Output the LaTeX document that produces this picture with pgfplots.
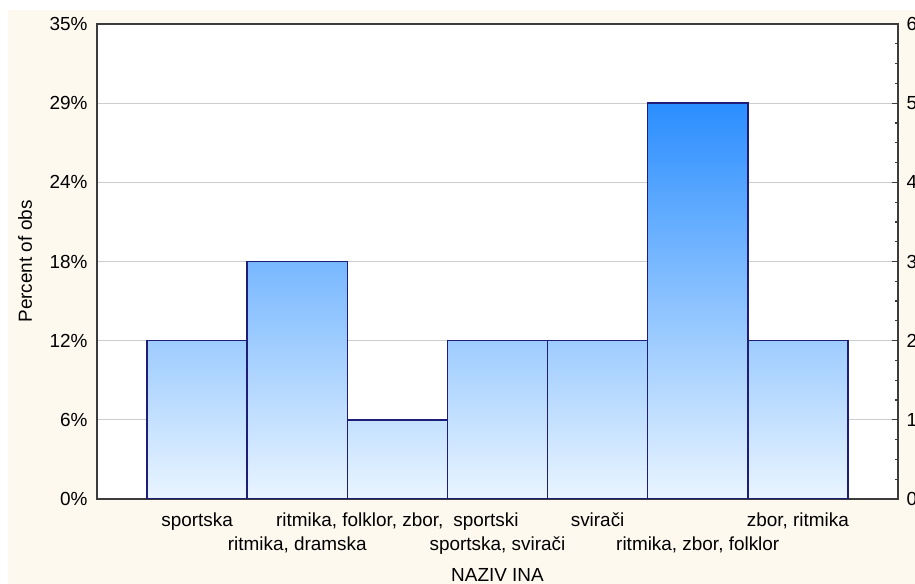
\documentclass[border=0pt]{standalone}
\usepackage{pgfplots}
\pgfplotsset{compat=1.18}
\usepackage{fontspec}
\setmainfont{Liberation Sans}
\definecolor{cream}{HTML}{FEF9EF}
\definecolor{ctop}{RGB}{43,142,255}
\definecolor{cbot}{RGB}{234,245,255}
\definecolor{edgec}{RGB}{30,30,120}
\definecolor{gridc}{RGB}{205,205,205}
\definecolor{axc}{RGB}{60,60,60}
\newcommand{\lf}{\fontsize{19}{22.5}\selectfont}
\begin{document}
\lf
\begin{tikzpicture}[x=1bp,y=1bp]
\useasboundingbox (0,0) rectangle (915,584);
\fill[cream] (8,0) rectangle (915,574);
\begin{axis}[
  at={(97bp,85bp)}, anchor=south west,
  width=801bp, height=475bp, scale only axis,
  xmin=0, xmax=8, ymin=0, ymax=6,
  axis background/.style={fill=white},
  axis line style={draw=axc, line width=1.5bp},
  ymajorgrids, grid style={draw=gridc, line width=1bp},
  ytick={0,1,2,3,4,5,6},
  yticklabels={0\%,6\%,12\%,18\%,24\%,29\%,35\%},
  ytick pos=left, ytick style={draw=none},
  xtick={1,2,3,4,5,6,7},
  xtick pos=bottom, tick align=inside,
  xtick style={draw=axc, line width=1.2bp},
  major tick length=4bp,
  xticklabels={sportska,{\strut\\ritmika, dramska},{ritmika, folklor, zbor,\hspace{10bp}sportski},{\strut\\sportska, svirači},svirači,{\strut\\ritmika, zbor, folklor},{zbor, ritmika}},
  xticklabel style={align=center, anchor=north, yshift=-7bp, font=\lf},
  yticklabel style={font=\lf, xshift=-3bp},
  xlabel={NAZIV INA},
  ylabel={Percent of obs},
  xlabel style={at={(axis description cs:0.5,0)}, anchor=center, yshift=-76bp, font=\lf},
  ylabel style={at={([xshift=-72bp]axis description cs:0,0.5)}, anchor=center, font=\lf},
  every axis plot/.append style={ybar, bar width=1, bar shift=0pt, draw=edgec, line width=1.4bp, bottom color=cbot},
]
\addplot[top color=ctop!40!cbot] coordinates {(1,2)};
\addplot[top color=ctop!60!cbot] coordinates {(2,3)};
\addplot[top color=ctop!20!cbot] coordinates {(3,1)};
\addplot[top color=ctop!40!cbot] coordinates {(4,2)};
\addplot[top color=ctop!40!cbot] coordinates {(5,2)};
\addplot[top color=ctop!100!cbot] coordinates {(6,5)};
\addplot[top color=ctop!40!cbot] coordinates {(7,2)};
\end{axis}
\begin{axis}[
  at={(97bp,85bp)}, anchor=south west,
  width=801bp, height=475bp, scale only axis,
  xmin=0, xmax=8, ymin=0, ymax=6,
  axis x line=none, axis y line*=right,
  axis line style={draw=axc, line width=1.5bp},
  ytick={0,1,2,3,4,5,6},
  minor y tick num=3,
  tick align=inside,
  major tick length=6bp, minor tick length=3bp,
  every tick/.style={draw=axc, line width=1.2bp},
  /pgf/number format/assume math mode=true,
  yticklabel style={font=\lf, anchor=west, xshift=2bp},
]
\addplot[draw=none] coordinates {(0,0)};
\end{axis}
\end{tikzpicture}
\end{document}
